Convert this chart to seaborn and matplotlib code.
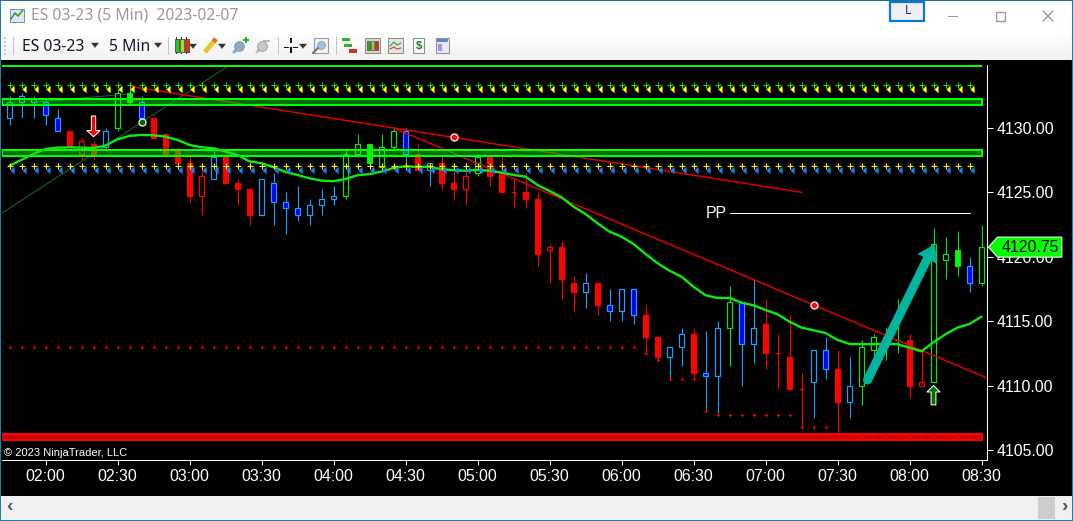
import matplotlib
matplotlib.use('Agg')
import matplotlib.pyplot as plt
from matplotlib.patches import Rectangle, Polygon
from matplotlib.path import Path
import numpy as np
import seaborn as sns

# candle values, one entry per 5 min bar
body_top = [4132, 4132.5, 4132.25, 4132, 4130.75, 4129.75, 4129, 4128.75, 4129.75, 4132.75,
            4132.75, 4132, 4130.75, 4129.5, 4128.25, 4127.25, 4126.25, 4127.75, 4127.75, 4125.75,
            4125.25, 4126, 4125.75, 4124.25, 4123.75, 4124, 4124.5, 4124.75, 4128, 4128.75,
            4128.75, 4128.5, 4129.75, 4129.75, 4128, 4127.25, 4127.25, 4125.75, 4126.25, 4127.75,
            4127.75, 4126.5, 4125, 4125, 4124.5, 4120.75, 4120.75, 4118, 4118, 4118,
            4116.25, 4117.5, 4117.5, 4115.5, 4113.75, 4113, 4114, 4114, 4111, 4114.5,
            4116.5, 4116.5, 4114.5, 4114.75, 4112.5, 4112.25, 4109.75, 4112.75, 4112.75, 4111.25,
            4110, 4113, 4113.75, 4113.75, 4113.5, 4113.5, 4110.25, 4121, 4120.25, 4120.5,
            4119.25, 4120.75]
body_bot = [4130.75, 4132, 4132, 4131, 4129.75, 4128.5, 4128, 4128, 4128.5, 4130,
            4132, 4130.75, 4129.25, 4128, 4127.25, 4124.75, 4124.75, 4126, 4125.75, 4125.25,
            4123.25, 4123.25, 4124.25, 4123.75, 4123.25, 4123.25, 4124, 4124.5, 4124.75, 4128,
            4127.25, 4127, 4128.5, 4128, 4126.75, 4126.75, 4125.75, 4125.25, 4125.25, 4126.5,
            4126.25, 4125, 4125, 4124.5, 4120.25, 4120.5, 4118.25, 4117.25, 4117.25, 4116.25,
            4115.75, 4115.75, 4115.5, 4113.75, 4112.25, 4112.25, 4113, 4111, 4110.75, 4110.75,
            4114.5, 4113.25, 4113.25, 4112.5, 4112.5, 4109.75, 4109.75, 4110.25, 4111.25, 4108.75,
            4108.75, 4110, 4112.75, 4113, 4113.5, 4110, 4110, 4110.25, 4119.75, 4119.25,
            4118, 4118]
highs = [4132.5, 4132.75, 4132.5, 4132.25, 4131.5, 4129.75, 4129.25, 4129, 4130, 4133,
         4133.25, 4132.5, 4130.75, 4129.5, 4128.5, 4127.75, 4127, 4128.5, 4128, 4126,
         4125.25, 4126, 4126.5, 4125, 4125.5, 4124.5, 4125.25, 4125.5, 4128.25, 4129.5,
         4128.75, 4129.5, 4130, 4130, 4128.75, 4127.25, 4128, 4126.75, 4126.75, 4128,
         4128, 4128, 4126, 4126.5, 4125, 4121, 4121.25, 4118.5, 4118.75, 4118,
         4117.5, 4117.5, 4117.5, 4116.25, 4113.75, 4113, 4114.5, 4114.5, 4114.25, 4115,
         4117.75, 4116.5, 4118.25, 4116.75, 4114, 4115.5, 4111, 4112.75, 4113.75, 4112.75,
         4112.25, 4113.5, 4114, 4114.5, 4116.75, 4114, 4112.75, 4122.25, 4121.5, 4122,
         4120, 4122.5]
lows = [4130.25, 4130.75, 4130.75, 4130.25, 4129.75, 4128.5, 4127.5, 4127.5, 4128.25, 4129.75,
        4131.75, 4130.25, 4129.25, 4127.75, 4127.25, 4124.25, 4123.25, 4126, 4125.75, 4124,
        4122.5, 4123.25, 4122.5, 4121.75, 4122.75, 4122.5, 4123.25, 4124, 4124.5, 4127.75,
        4127.25, 4126.75, 4128.25, 4126.75, 4126.75, 4125.5, 4125.25, 4124.5, 4124, 4126.25,
        4125.5, 4125, 4123.75, 4123.75, 4119.25, 4118, 4116.75, 4115.75, 4116, 4115.5,
        4115, 4115, 4114.75, 4112.5, 4112, 4110.5, 4111.5, 4110.5, 4108, 4107.75,
        4111.5, 4110, 4111.75, 4111.25, 4109.75, 4109.75, 4106.75, 4107.5, 4110.5, 4106.25,
        4107.5, 4108.5, 4112, 4112, 4112.5, 4109, 4110, 4110.25, 4118.25, 4118.5,
        4117.25, 4117.75]
# upper case = filled body, lower case = hollow body
bar_kind = ["b", "b", "b", "B", "B", "R", "r", "R", "b", "g",
            "G", "B", "R", "R", "R", "R", "r", "b", "R", "R",
            "R", "b", "B", "B", "B", "b", "b", "b", "g", "g",
            "G", "g", "g", "B", "R", "b", "R", "R", "r", "g",
            "R", "R", "R", "R", "R", "r", "R", "R", "b", "R",
            "B", "b", "B", "R", "R", "b", "b", "R", "B", "b",
            "g", "B", "b", "R", "R", "R", "R", "b", "B", "R",
            "b", "g", "g", "g", "g", "R", "r", "g", "g", "G",
            "B", "g"]

moving_avg = [4127.07, 4127.52, 4127.98, 4128.37, 4128.47, 4128.50, 4128.47, 4128.45, 4128.63, 4129.12,
              4129.38, 4129.46, 4129.43, 4129.32, 4129.07, 4128.68, 4128.50, 4128.42, 4128.16, 4127.90,
              4127.41, 4127.26, 4126.95, 4126.58, 4126.35, 4126.09, 4125.91, 4125.86, 4126.04, 4126.33,
              4126.41, 4126.61, 4126.89, 4127.03, 4126.97, 4127.00, 4126.79, 4126.72, 4126.68, 4126.74,
              4126.68, 4126.53, 4126.35, 4126.22, 4125.57, 4125.11, 4124.62, 4123.89, 4123.32, 4122.60,
              4121.95, 4121.56, 4120.99, 4120.22, 4119.50, 4118.92, 4118.45, 4117.68, 4117.01, 4116.80,
              4116.80, 4116.44, 4116.23, 4115.87, 4115.54, 4114.96, 4114.50, 4114.29, 4114.08, 4113.54,
              4113.23, 4113.21, 4113.21, 4113.23, 4113.21, 4112.94, 4112.66, 4113.36, 4113.98, 4114.50,
              4114.78, 4115.35]

trail_stop = [4113.0] * 53 + [4112.5, 4112.0, 4110.5, 4110.5, 4110.5, 4108.0] + [4107.75] * 7 \
    + [4106.75] * 3 + [4106.0] * 12

upper_cross_level = 4133.3
upper_tri_level = 4133.0
lower_cross_level = 4127.05
lower_tri_level = 4126.7

top_line_level = 4134.8
green_zones = [(4131.81, 4132.23), (4127.8, 4128.27)]
red_zone = (4105.8, 4106.22)
zone_end = 81.06

red_lines = [((10.22, 66.04), (4133.2, 4125.0)), ((32, 81.5), (4130.0, 4110.57))]
dim_green_lines = [((-0.58, 18.14), (4123.42, 4134.76)), ((2, 9.9), (4132.0, 4132.64))]
red_dots_x = [37.0, 67]
red_dots_y = [4129.28, 4116.26]
green_dot = (11, 4130.5)

pp_level = 4123.38
last_price = 4120.75

time_ticks = [3, 9, 15, 21, 27, 33, 39, 45, 51, 57, 63, 69, 75, 81]
time_labels = ["02:00", "02:30", "03:00", "03:30", "04:00", "04:30", "05:00",
               "05:30", "06:00", "06:30", "07:00", "07:30", "08:00", "08:30"]
price_ticks = [4105, 4110, 4115, 4120, 4125, 4130]

W, H = 1073, 521
PX = 0.72  # one pixel in points at dpi 100

sns.set_style("dark")
plt.rcParams['font.family'] = ['Liberation Sans', 'DejaVu Sans']

fig = plt.figure(figsize=(W / 100, H / 100), dpi=100, facecolor="black")

# window frame, toolbar and scrollbar, drawn in pixels
chrome = fig.add_axes([0, 0, 1, 1], zorder=0)
chrome.set_xlim(0, W)
chrome.set_ylim(H, 0)
chrome.axis("off")


def box(x, y, w, h, fc, ec="none", lw=0.0, z=2):
    chrome.add_patch(Rectangle((x, y), w, h, facecolor=fc, edgecolor=ec, linewidth=lw, zorder=z))


def down_mark(x, y):
    chrome.add_patch(Polygon([(x - 3.5, y - 2), (x + 3.5, y - 2), (x, y + 2.5)], facecolor="#333333",
                             edgecolor="#333333", linewidth=0.3, zorder=3))


box(0, 0, W, H, "black", z=0)
box(0, 0, W, 30, "white")
chrome.imshow(np.linspace(1, 0.945, 30).reshape(-1, 1), extent=(0, W, 60, 30), aspect="auto",
              cmap="gray", vmin=0, vmax=1, zorder=1)
chrome.set_xlim(0, W)
chrome.set_ylim(H, 0)
box(0, 496, W, 25, "#f0f0f0")
box(1038, 497, 17, 22, "#cdcdcd", z=3)
box(0, 0, 1, H, "#1f7ea8", z=5)
box(W - 1, 0, 1, H, "#1f7ea8", z=5)
box(0, 0, W, 1, "#1f6f96", z=5)
box(0, H - 1, W, 1, "#1f7ea8", z=5)
chrome.text(9, 507, "‹", fontsize=14, fontweight="bold", color="#555555", ha="center", va="center", zorder=4)
chrome.text(1064, 507, "›", fontsize=14, fontweight="bold", color="#555555", ha="center", va="center", zorder=4)

chrome.text(31, 16, "ES 03-23 (5 Min)  2023-02-07", family="Noto Sans", fontsize=11.3, color="#9a9a9a",
            va="center", zorder=4)
chrome.text(22, 47, "ES 03-23", family="Noto Sans", fontsize=11.3, color="#10182c", va="center", zorder=4)
chrome.text(109, 47, "5 Min", family="Noto Sans", fontsize=11.3, color="#10182c", va="center", zorder=4)
down_mark(95, 45)
down_mark(158, 45)

# window buttons
box(890, 2, 34, 19, "#efefef", ec="#0a78d7", lw=1.6)
chrome.text(908, 11, "L", family="Noto Sans", fontsize=8.5, color="#1a2a6c", ha="center", va="center", zorder=4)
box(948, 15.5, 10, 1, "#999999")
box(995.5, 11.5, 9, 9, "none", ec="#999999", lw=1)
chrome.plot([1043, 1053], [11, 21], color="#999999", lw=1, zorder=4)
chrome.plot([1043, 1053], [21, 11], color="#999999", lw=1, zorder=4)

# title icon
box(10, 9, 14, 13, "#dfe6f2", ec="#7c8db0", lw=0.7)
chrome.plot([11, 15, 18, 23], [19, 13, 16, 10], color="#2f9e2f", lw=1.1, zorder=4)

# toolbar separators and grip
for sep_x in [13, 168, 278, 336]:
    box(sep_x, 37, 1, 18, "#c4c4c4")
for grip_y in range(37, 55, 4):
    box(4, grip_y, 2, 2, "#c8c8c8")

# toolbar icons
for ic_x, ic_c in [(174.5, "#1fc81f"), (179.5, "#b4d820"), (184.5, "#e03020")]:
    box(ic_x + 1.6, 37, 0.8, 17, "#333333", z=1.5)
    box(ic_x, 39, 4, 13, ic_c, ec="#333333", lw=0.5)
down_mark(193, 46)
chrome.plot([205, 215], [52, 40], color="#f0c020", lw=3.4, solid_capstyle="butt", zorder=3)
chrome.plot([213.5, 216], [41.8, 38.8], color="#d87030", lw=3.4, solid_capstyle="butt", zorder=3)
down_mark(222, 46)
for mag_x, mag_c in [(239, "#8fa8c0"), (262, "#c8c8c8")]:
    chrome.plot([mag_x - 5, mag_x - 1], [52, 48], color=mag_c, lw=2.2, zorder=3)
    chrome.scatter([mag_x], [46], s=50, color=mag_c, edgecolors="#909090", linewidths=0.5, zorder=3)
box(243, 39, 6, 2, "#20b020")
box(245, 37, 2, 6, "#20b020")
box(263, 40, 7, 1.5, "#b8b8b8")
for hair in [(284, 46.5, 5, 1.6), (293, 46.5, 5, 1.6), (290.2, 38, 1.6, 5), (290.2, 47, 1.6, 6)]:
    box(*hair, "#111111")
down_mark(303, 46)
box(314, 38, 14, 15, "#f4f4f4", ec="#9a9a9a", lw=0.8)
chrome.scatter([321], [45], s=32, color="#9fc4e4", edgecolors="#7090b0", linewidths=0.5, zorder=3)
chrome.plot([313, 318], [53, 48], color="#777777", lw=1.6, zorder=3)
box(342, 38, 8, 3, "#30b030")
box(344, 44, 8, 3, "#30b030")
box(349, 49, 8, 4, "#d83020")
box(365, 38, 15, 15, "#d9d9d0", ec="#888888", lw=0.7)
for ic_x, ic_c in [(367, "#30a030"), (371, "#c0c040"), (375, "#d03020")]:
    box(ic_x, 41, 3, 9, ic_c, ec="#333333", lw=0.4)
box(388, 38, 15, 15, "#e4e4e0", ec="#888888", lw=0.7)
chrome.plot([390, 394, 397, 401], [46, 42, 45, 43], color="#30a030", lw=0.8, zorder=4)
chrome.plot([390, 394, 397, 401], [49, 47, 49, 48], color="#d04030", lw=0.8, zorder=4)
box(413, 38, 11, 15, "#f8f8f8", ec="#888888", lw=0.7)
chrome.text(418.5, 45.5, "$", fontsize=8, fontweight="bold", color="#1f7a2f", ha="center", va="center", zorder=4)
box(436, 38, 13, 15, "#e8e8f4", ec="#8888a8", lw=0.7)
box(437, 39, 11, 3, "#6088c8")
box(438, 44, 4, 7, "#b090d8")

# the chart itself, half pixel offset so 1px wicks land on a pixel column
ax = fig.add_axes([2 / W, (H - 460) / H, 985 / W, 398 / H], zorder=2, facecolor="black")
ax.set_xlim(-7.5 / 12, 977.5 / 12)
ax.set_ylim(4104.22, 4135.12)
left_edge = -7.5 / 12

bars = np.arange(len(body_top))
top = np.array(body_top)
bot = np.array(body_bot)
wick_colors = {"b": "#1ea0ff", "B": "#1ea0ff", "g": "#14e014", "G": "#14e014", "r": "#ff0000", "R": "#ff0000"}
face_colors = {"b": "black", "B": "#0000ff", "g": "black", "G": "#00ff00", "r": "black", "R": "#ff0000"}

ax.vlines(bars, lows, highs, colors=[wick_colors[k] for k in bar_kind], linewidth=PX * 1.1, zorder=3)
ax.bar(bars, top - bot, bottom=bot, width=0.36,
       color=[face_colors[k] for k in bar_kind],
       edgecolor=[wick_colors[k] for k in bar_kind], linewidth=PX * 1.2, zorder=3.2)

# trend lines
for line_x, line_y in red_lines:
    ax.plot(line_x, line_y, color="#e00000", lw=PX * 1.5, zorder=3.4)
for line_x, line_y in dim_green_lines:
    ax.plot(line_x, line_y, color="#1c6a1c", lw=PX, zorder=2.8)

# support and resistance zones
ax.plot([left_edge, zone_end], [top_line_level] * 2, color="#00ff00", lw=PX * 2, zorder=4, solid_capstyle="butt")
for z_lo, z_hi in green_zones:
    ax.add_patch(Rectangle((left_edge, z_lo), zone_end - left_edge, z_hi - z_lo, facecolor=(0, 1, 0, 0.42),
                           edgecolor="#00ff00", linewidth=PX * 2, zorder=4))
ax.add_patch(Rectangle((left_edge, red_zone[0]), zone_end - left_edge, red_zone[1] - red_zone[0],
                       facecolor=(1, 0, 0, 0.78), edgecolor="#ff0000", linewidth=PX * 2, zorder=4))

sns.lineplot(x=bars, y=moving_avg, ax=ax, color="#10e810", linewidth=PX * 2.4, zorder=5, legend=False)

# per bar signal rows
row = bars[:-1]
thin_tri = Path([(0.55, 1), (-0.55, 0), (0.55, -1), (0.55, 1)], closed=True)
sns.scatterplot(x=row, y=[upper_cross_level] * len(row), ax=ax, marker="+", s=14, color="#1fe01f",
                linewidth=PX * 1.1, zorder=6)
sns.scatterplot(x=row + 0.2, y=[upper_tri_level] * len(row), ax=ax, marker=thin_tri, s=30, color="#ffff00",
                linewidth=0, zorder=6)
sns.scatterplot(x=row, y=[lower_cross_level] * len(row), ax=ax, marker="+", s=14, color="#ffff00",
                linewidth=PX * 1.1, zorder=6)
sns.scatterplot(x=row + 0.2, y=[lower_tri_level] * len(row), ax=ax, marker=thin_tri, s=30, color="#1e80ff",
                linewidth=0, zorder=6)
sns.scatterplot(x=row, y=trail_stop, ax=ax, marker="+", s=8, color="#ff0000", linewidth=PX * 0.9, zorder=6)

sns.scatterplot(x=red_dots_x, y=red_dots_y, ax=ax, s=26, color="#f01010", edgecolor="white", linewidth=PX * 1.2, zorder=7)
sns.scatterplot(x=[green_dot[0]], y=[green_dot[1]], ax=ax, s=26, color="#006400", edgecolor="white",
                linewidth=PX * 1.2, zorder=7)

# entry arrows
ax.add_patch(Polygon([(6.82, 4130.93), (7.18, 4130.93), (7.18, 4129.8), (7.55, 4129.8), (7.0, 4129.32),
                      (6.45, 4129.8), (6.82, 4129.8)], facecolor="#ff0000", edgecolor="white",
                     linewidth=PX, zorder=7))
ax.add_patch(Polygon([(76.8, 4108.5), (77.2, 4108.5), (77.2, 4109.5), (77.55, 4109.5), (77.0, 4110.0),
                      (76.45, 4109.5), (76.8, 4109.5)], facecolor="#007000", edgecolor="white",
                     linewidth=PX, zorder=7))

ax.plot([71.5, 76.5], [4110.43, 4119.87], color="#00b5a0", lw=PX * 9, solid_capstyle="round", zorder=8)
ax.add_patch(Polygon([(77.08, 4120.92), (75.75, 4120.22), (77.25, 4119.52)], facecolor="#00b5a0",
                     edgecolor="#00b5a0", linewidth=PX, zorder=8))

# pivot line
ax.plot([60, 80], [pp_level] * 2, color="white", lw=PX, zorder=6)
ax.text(58, pp_level, "PP", color="white", fontsize=11.4, va="center", zorder=6)

ax.text(-0.42, 4104.78, "© 2023 NinjaTrader, LLC", color="white", fontsize=8, va="center", zorder=6)

# axes
ax.yaxis.tick_right()
ax.set_yticks(price_ticks, [f"{p:.2f}" for p in price_ticks])
ax.set_xticks(time_ticks, time_labels)
ax.tick_params(axis="y", colors="white", length=4.3, width=PX, pad=2.8, labelsize=11.4, right=True, left=False)
ax.tick_params(axis="x", colors="white", length=3.6, width=PX, pad=3.2, labelsize=11.4, bottom=True)
ax.grid(False)
ax.set_xlabel("")
ax.set_ylabel("")
for side in ["left", "top"]:
    ax.spines[side].set_visible(False)
for side in ["right", "bottom"]:
    ax.spines[side].set_visible(True)
    ax.spines[side].set_color("white")
    ax.spines[side].set_linewidth(PX)
ax.spines["right"].set_bounds(4104.22, 4134.89)

# last price badge
ax.add_patch(Polygon([(81.58, last_price), (82.33, last_price + 0.78), (87.7, last_price + 0.78),
                      (87.7, last_price - 0.78), (82.33, last_price - 0.78)], facecolor="#00ff00",
                     edgecolor="white", linewidth=PX, clip_on=False, zorder=10))
ax.text(85.05, last_price, f"{last_price:.2f}", color="black", fontsize=11.4, ha="center", va="center",
        clip_on=False, zorder=11)

fig.savefig("out.png", dpi=100, facecolor="black")
plt.close(fig)
